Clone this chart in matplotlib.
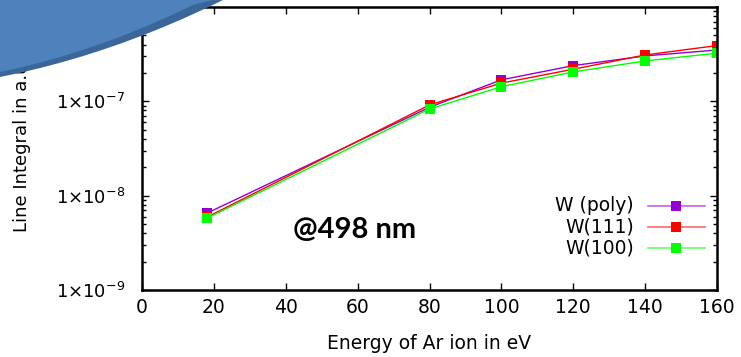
import math

import numpy as np
import matplotlib
matplotlib.use("Agg")
import matplotlib.pyplot as plt
from matplotlib.patches import Polygon
from matplotlib.lines import Line2D
from matplotlib.ticker import FixedLocator, LogLocator, FuncFormatter, NullFormatter

plt.rcParams['font.family'] = ['DejaVu Sans']
plt.rcParams['mathtext.fontset'] = 'dejavusans'

# data
energy = [18, 80, 100, 120, 140, 160]
w_poly = [6.5e-9, 8.65e-8, 1.69e-7, 2.39e-7, 3.03e-7, 3.5e-7]
w_111 = [5.9e-9, 9.16e-8, 1.56e-7, 2.19e-7, 3.1e-7, 3.9e-7]
w_100 = [5.75e-9, 8.3e-8, 1.43e-7, 2.05e-7, 2.68e-7, 3.24e-7]

series = [
    ("W (poly)", w_poly, "#9400d3"),
    ("W(111)", w_111, "#ff0000"),
    ("W(100)", w_100, "#00ff00"),
]

x_ticks = [0, 20, 40, 60, 80, 100, 120, 140, 160]
y_ticks = [1e-9, 1e-8, 1e-7, 1e-6]

W, H = 741, 357
fig = plt.figure(figsize=(W / 100, H / 100), dpi=100)
ax = fig.add_axes([142 / W, 1 - 290 / H, (717 - 142) / W, (290 - 7) / H])

for name, vals, col in series:
    ax.plot(energy, vals, '-', color=col, lw=1.0, marker='s', ms=7.7,
            markeredgewidth=0, label=name)

ax.set_yscale('log')
ax.set_xlim(0, 160)
ax.set_ylim(1e-9, 1e-6)
ax.xaxis.set_major_locator(FixedLocator(x_ticks))
ax.yaxis.set_major_locator(FixedLocator(y_ticks))
ax.yaxis.set_minor_locator(LogLocator(base=10, subs=range(2, 10), numticks=20))
ax.yaxis.set_minor_formatter(NullFormatter())


def sci(v, pos):
    e = int(round(math.log10(v)))
    return '1×10$^{%d}$' % e


ax.yaxis.set_major_formatter(FuncFormatter(sci))
ax.tick_params(which='both', direction='in', top=True, right=True, width=1.0)
ax.tick_params(which='major', length=5)
ax.tick_params(which='minor', length=3)
ax.tick_params(axis='x', pad=6, labelsize=13.5)
ax.tick_params(axis='y', pad=12, labelsize=13)
for s in ax.spines.values():
    s.set_linewidth(1.8)

ax.set_xlabel('Energy of Ar ion in eV', fontsize=13.5)
ax.xaxis.set_label_coords(0.5, -(334 - 290) / 283)
ax.set_ylabel('Line Integral in a.u.', fontsize=13)
ax.yaxis.set_label_coords((31 - 142) / 575, 0.516)

# gnuplot-style key: text right aligned, sample to the right
key_y = [0.298, 0.224, 0.150]
for (name, vals, col), ky in zip(series, key_y):
    ax.add_line(Line2D([0.88, 0.979], [ky, ky], transform=ax.transAxes, color=col,
                       lw=1.2, alpha=0.6))
    ax.add_line(Line2D([0.929], [ky], transform=ax.transAxes, color=col, marker='s',
                       ms=7.7, markeredgewidth=0, linestyle='none'))
    ax.text(0.855, ky, name, transform=ax.transAxes, ha='right', va='center', fontsize=13.5)

ax.text(355 / W, 1 - 230 / H, '@498 nm', transform=fig.transFigure, ha='center', va='center',
        fontsize=21, fontweight='bold', family=['Lato', 'DejaVu Sans'])

# slide decoration overlapping the top-left corner (slightly curved edge)
xs = np.linspace(0, 223, 12)
edge = 77 - 0.1967 * xs - 0.000666 * xs ** 2
dark = [(0, 0)] + list(zip(xs[::-1], edge[::-1]))
light = [(0, 0)] + list(zip(xs[::-1] * 213 / 223, edge[::-1] - 5))
for pts, c in [(dark, '#3a6699'), (light, '#4f81bd')]:
    fig.patches.append(Polygon([(x / W, 1 - max(y, 0) / H) for x, y in pts], closed=True,
                               transform=fig.transFigure, facecolor=c, edgecolor='none',
                               zorder=10))

fig.savefig('out.png', dpi=100)
